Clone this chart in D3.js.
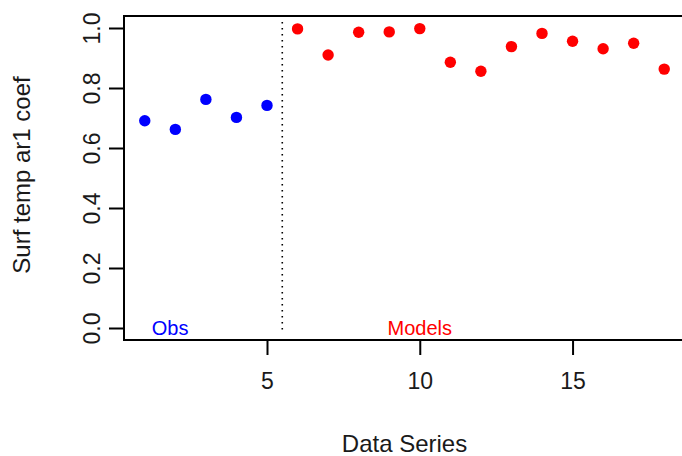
<!DOCTYPE html>
<html>
<head>
<meta charset="utf-8">
<script src="https://cdn.jsdelivr.net/npm/d3@7"></script>
<style>
    body { margin: 0; background: #fff; }
    svg { display: block; font-family: "Liberation Sans", Arial, sans-serif; }
</style>
</head>
<body>
<svg id="chart"></svg>
<script>
// observed series (1-5) then model series (6-18)
let obsSeries = [1, 2, 3, 4, 5];
let obsValues = [0.691, 0.662, 0.762, 0.702, 0.742];
let modelSeries = [6, 7, 8, 9, 10, 11, 12, 13, 14, 15, 16, 17, 18];
let modelValues = [0.997, 0.910, 0.986, 0.987, 0.998, 0.886, 0.856, 0.938, 0.982, 0.956, 0.931, 0.949, 0.863];
let xTicks = [5, 10, 15];
let yTicks = [0, 0.2, 0.4, 0.6, 0.8, 1.0];
let groupLabels = ['Obs', 'Models'];
let groupLabelX = [1.83, 10];
let dividerX = 5.5;

let width = 682,
    height = 456,
    margin = { top: 16, right: -3, bottom: 116, left: 124 };

let svg = d3.select('#chart').attr('width', width).attr('height', height);

// R style: 4% padding on each side of the data range
let x = d3.scaleLinear().domain([0.32, 18.68]).range([margin.left, width - margin.right]);
let y = d3.scaleLinear().domain([-0.04, 1.04]).range([height - margin.bottom, margin.top]);

let drawPoints = (g, xs, ys, colour) => {
    let points = xs.map((d, i) => ({ x: d, y: ys[i] }));
    g.selectAll(null)
        .data(points)
        .enter().append('circle')
        .attr('r', 5.7)
        .attr('cx', d => x(d.x))
        .attr('cy', d => y(d.y))
        .style('fill', colour);
};

// divider between obs and models
svg.append('line')
    .attr('x1', x(dividerX)).attr('x2', x(dividerX))
    .attr('y1', y(1.02)).attr('y2', y(-0.02))
    .style('stroke', '#000')
    .style('stroke-width', 1.6)
    .style('stroke-dasharray', '1.6,4.4');

let dots = svg.append('g');
drawPoints(dots, obsSeries, obsValues, '#0000ff');
drawPoints(dots, modelSeries, modelValues, '#ff0000');

svg.append('g').selectAll('text')
    .data(groupLabels)
    .enter().append('text')
    .attr('x', (d, i) => x(groupLabelX[i]))
    .attr('y', y(0) + 7)
    .attr('text-anchor', 'middle')
    .style('font-size', '20px')
    .style('fill', (d, i) => i === 0 ? '#0000ff' : '#ff0000')
    .text(d => d);

// X axis
let xAxis = svg.append('g')
    .attr('transform', `translate(0, ${height - margin.bottom})`)
    .call(d3.axisBottom(x).tickValues(xTicks).tickSize(15).tickPadding(18).tickFormat(d3.format('d')));
xAxis.select('.domain').remove();
xAxis.selectAll('line').style('stroke', '#000').style('stroke-width', 2);
xAxis.selectAll('text').style('font-size', '23px').style('fill', '#1a1a1a');

// Y axis, labels rotated like R's las=0
let yAxis = svg.append('g')
    .attr('transform', `translate(${margin.left}, 0)`)
    .call(d3.axisLeft(y).tickValues(yTicks).tickSize(15).tickFormat(d3.format('.1f')));
yAxis.select('.domain').remove();
yAxis.selectAll('line').style('stroke', '#000').style('stroke-width', 2);
yAxis.selectAll('text')
    .attr('x', null).attr('dy', null)
    .attr('transform', 'translate(-24, 0) rotate(-90)')
    .attr('text-anchor', 'middle')
    .style('font-size', '23px')
    .style('fill', '#1a1a1a');

// plot box
svg.append('rect')
    .attr('x', margin.left)
    .attr('y', margin.top)
    .attr('width', width - margin.right - margin.left)
    .attr('height', height - margin.bottom - margin.top)
    .style('fill', 'none')
    .style('stroke', '#000')
    .style('stroke-width', 2);

// axis titles
svg.append('text')
    .attr('x', (margin.left + width - margin.right) / 2)
    .attr('y', 452)
    .attr('text-anchor', 'middle')
    .style('font-size', '24px')
    .style('fill', '#1a1a1a')
    .text('Data Series');

svg.append('text')
    .attr('transform', 'translate(30, 175) rotate(-90)')
    .attr('text-anchor', 'middle')
    .style('font-size', '24px')
    .style('fill', '#1a1a1a')
    .text('Surf temp ar1 coef');
</script>
</body>
</html>
